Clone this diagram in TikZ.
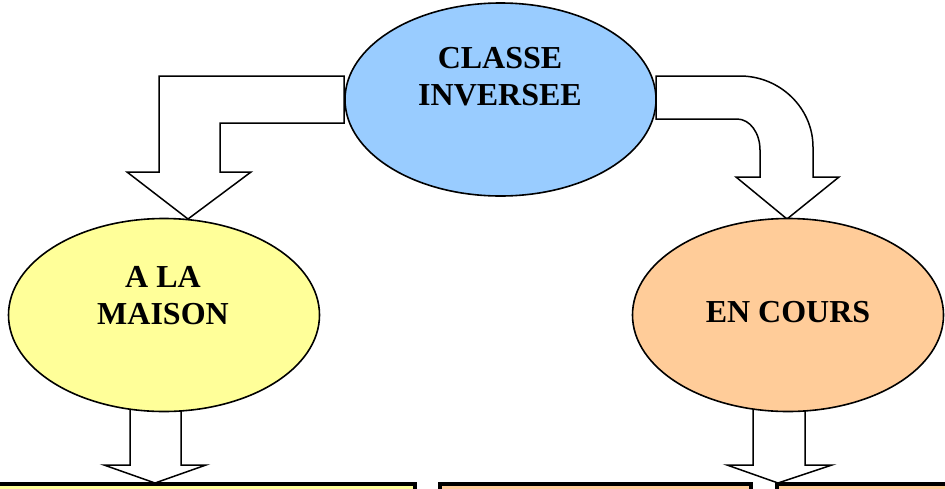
\documentclass[tikz,border=0pt]{standalone}
\usepackage{fontspec}
\setmainfont{Liberation Serif}
\usetikzlibrary{shapes.geometric,positioning,calc}
\definecolor{bleuclasse}{HTML}{99CCFF}
\definecolor{jaunemaison}{HTML}{FFFF99}
\definecolor{orangecours}{HTML}{FFCC99}
\tikzset{
  bulle/.style={ellipse, draw, line width=1.6pt, minimum width=311pt, minimum height=193pt, inner sep=0pt},
  titre/.style={font=\fontsize{32}{37}\selectfont\bfseries, align=center, inner sep=0pt},
  fleche/.style={draw, fill=white, line width=1.5pt, line join=miter},
  cadre/.style={draw, line width=4pt}
}

\begin{document}
\begin{tikzpicture}[x=1pt,y=-1pt]
            \useasboundingbox (0,0) rectangle (945,488);
            \draw[cadre, fill=jaunemaison] (-5,484) rectangle (415,510);
            \draw[cadre, fill=orangecours] (440,484) rectangle (751,510);
            \draw[cadre, fill=orangecours] (777,484) rectangle (960,510);
            \draw[fleche] (344,76) -- (159,76) -- (159,172) -- (127,172) -- (188,219) -- (251,172) -- (220,172) -- (220,123) -- (344,123) -- cycle;
            \draw[fleche] (656,76) -- (740,76) .. controls (780,76) and (813,108) .. (813,147) -- (813,177) -- (839,177) -- (787,219) -- (736,177) -- (760,177) -- (760,150) .. controls (760,133) and (750,119) .. (737,119) -- (656,119) -- cycle;
            \draw[fleche] (130,395) -- (130,465) -- (104,465) -- (155,483) -- (206,465) -- (181,465) -- (181,395) -- cycle;
            \draw[fleche] (753,395) -- (753,465) -- (727,465) -- (778,483) -- (832,465) -- (805,465) -- (805,395) -- cycle;
            \node[bulle, fill=bleuclasse] (classe) at (500.5,99.5) {};
            \node[bulle, fill=jaunemaison] (maison) at (164,315) {};
            \node[bulle, fill=orangecours] (cours) at (788,315) {};
            \node[titre] (classe-texte) at (500,77) {CLASSE\\INVERSEE};
            \node[titre] (maison-texte) at (163,295.5) {A LA\\MAISON};
            \node[titre] (cours-texte) at (788,312) {EN COURS};
        \end{tikzpicture}
\end{document}
